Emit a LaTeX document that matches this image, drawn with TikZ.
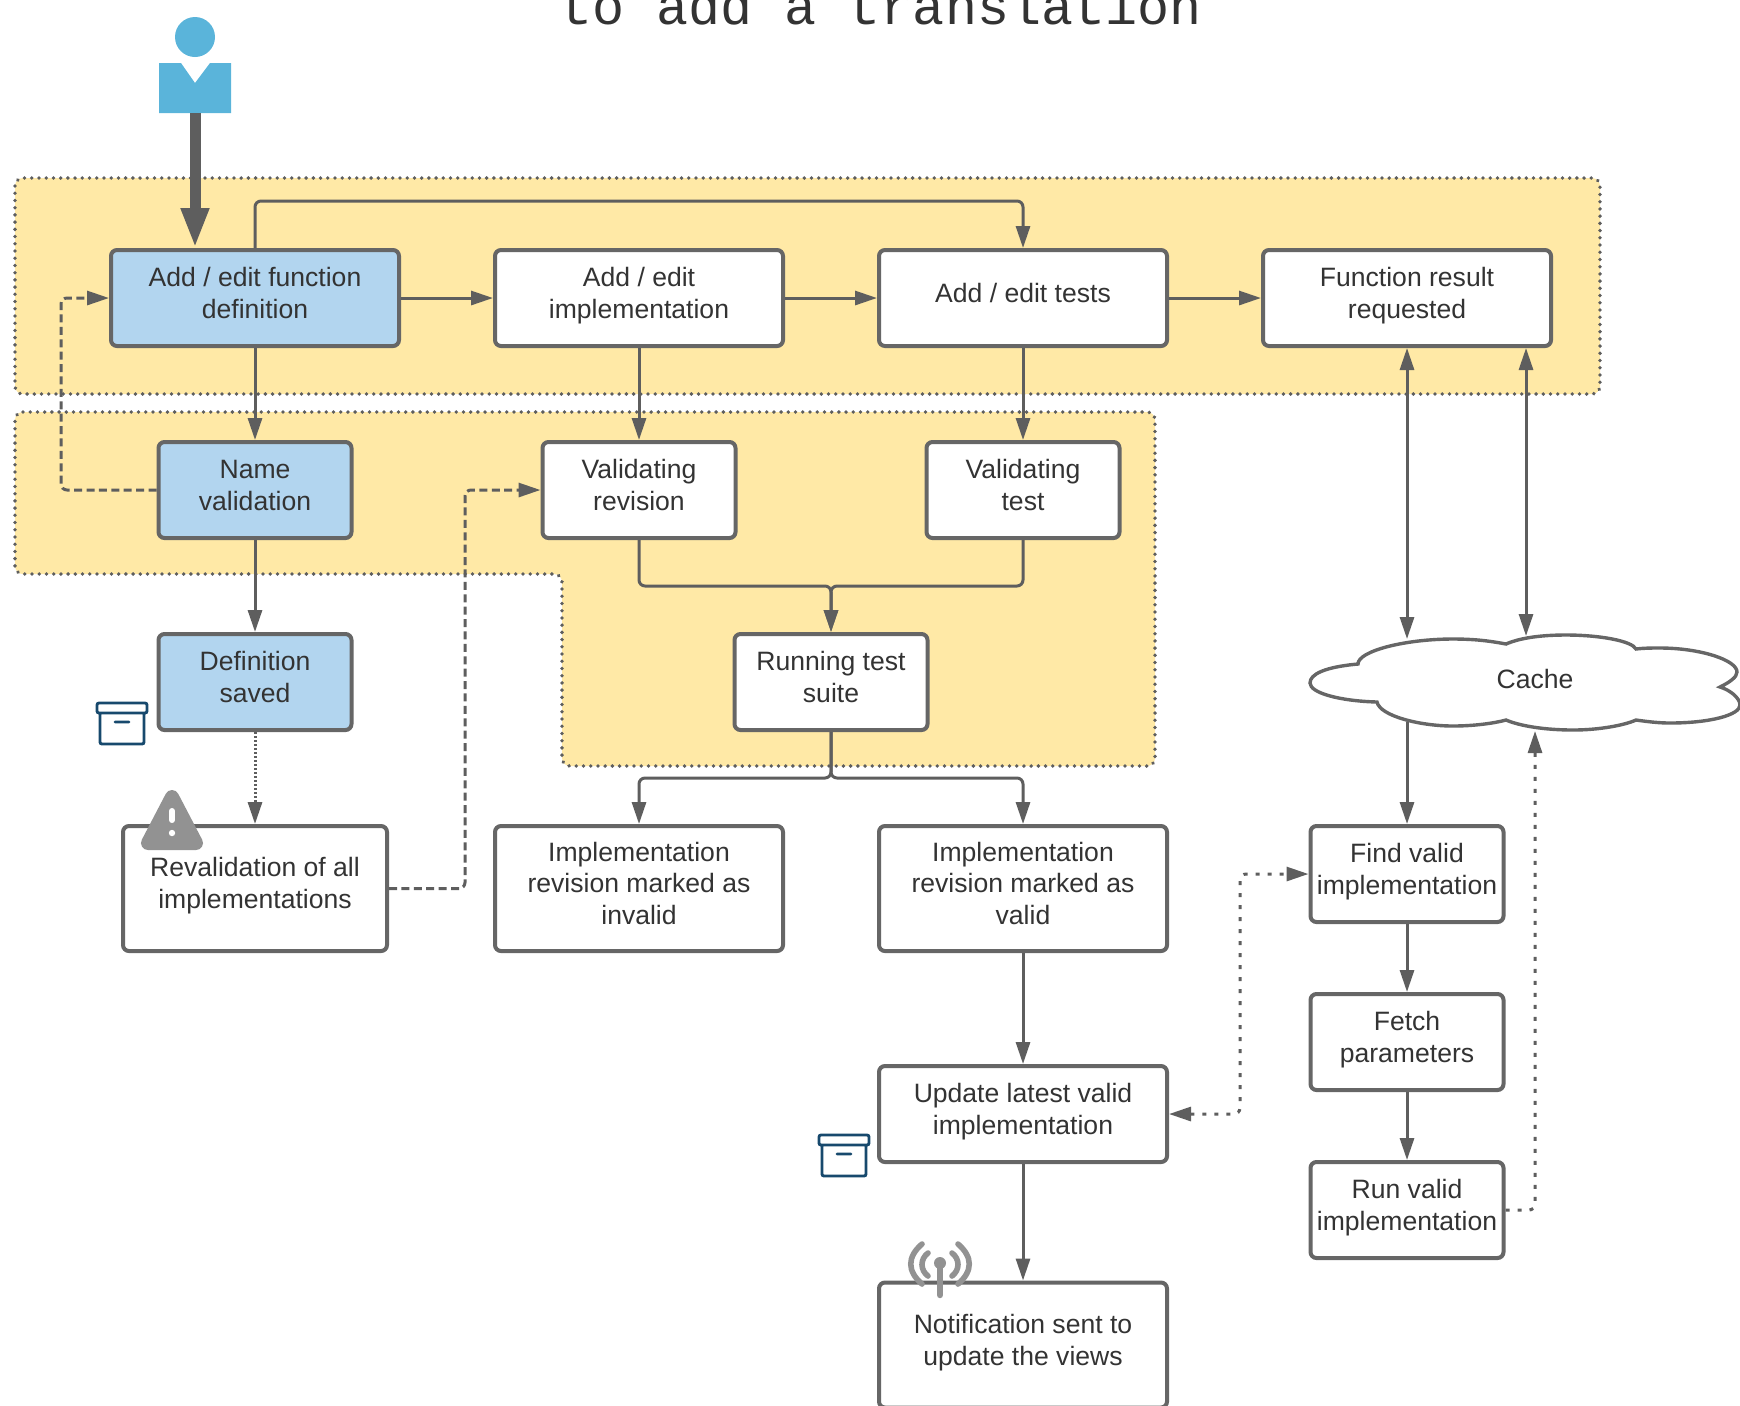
\documentclass[tikz,border=0pt]{standalone}
\usepackage{fontspec}
\setmainfont{Liberation Sans}
\setmonofont{Liberation Mono}
\usetikzlibrary{arrows.meta}
\definecolor{linegray}{HTML}{5E5E5E}
\definecolor{boxline}{HTML}{666666}
\definecolor{txt}{HTML}{333333}
\definecolor{zone}{HTML}{FFE9A6}
\definecolor{bluefill}{HTML}{B2D5EF}
\definecolor{actorblue}{HTML}{5AB4DA}
\definecolor{iconblue}{HTML}{17496D}
\definecolor{icongray}{HTML}{929292}
\newcommand{\lbl}[1]{\raisebox{1pt}[\height][\depth]{\begin{tabular}{@{}c@{}}#1\end{tabular}}}
\tikzset{
  x=0.5pt,y=-0.5pt,
  zonebox/.style={fill=zone,draw=linegray,line width=1.9pt,line cap=round,dash pattern=on 0.01pt off 3.6pt,rounded corners=4pt},
  card/.style={draw=boxline,line width=2pt,rounded corners=3pt,fill=white,inner sep=0pt,text=txt,font=\fontsize{13.28}{15.9}\selectfont},
  wide/.style={minimum width=144pt,minimum height=48pt},
  narrow/.style={minimum width=96.5pt,minimum height=48pt},
  widetall/.style={minimum width=144pt,minimum height=62.5pt},
  revalbox/.style={minimum width=132pt,minimum height=62.5pt},
  blue/.style={fill=bluefill},
  conn/.style={draw=linegray,line width=1.5pt,rounded corners=3pt,-{Triangle[length=11pt,width=7pt]}},
  dconn/.style={conn,{Triangle[length=11pt,width=7pt]}-{Triangle[length=11pt,width=7pt]}},
  dashc/.style={conn,dash pattern=on 4pt off 2.2pt},
  dotc/.style={conn,dash pattern=on 1pt off 1pt},
  sparse/.style={dash pattern=on 2pt off 4pt},
  archive/.pic={
    \draw[iconblue,line width=1.45pt,rounded corners=1pt,line cap=round]
      (0,0) rectangle (50,10) (3,10) -- (3,41) -- (47,41) -- (47,10) (18,19) -- (32,19);
  }
}
\begin{document}
\begin{tikzpicture}
\useasboundingbox (0,0) rectangle (1740,1405);
% zones
\draw[zonebox] (15,178) rectangle (1600,394);
\draw[zonebox] (15,412) -- (1155,412) -- (1155,766) -- (562,766) -- (562,574) -- (15,574) -- cycle;
% title
\node[anchor=base,inner sep=0pt,text=txt,font=\ttfamily\fontsize{26.7}{30}\selectfont] (title) at (881,24) {to add a translation};
% actor
\fill[actorblue] (195,37) circle[radius=10pt];
\fill[actorblue] (159,63) -- (181,63) -- (195,83) -- (210,63) -- (231,63) -- (231,113) -- (159,113) -- cycle;
\coordinate (actorbase) at (195,113);
% cloud
\draw[boxline,line width=1.7pt,fill=white,line join=miter]
 (1358,664) .. controls (1325,667) and (1310,674) .. (1310,683)
 .. controls (1310,693) and (1340,701) .. (1377,702)
 .. controls (1380,716) and (1420,726) .. (1453,726)
 .. controls (1475,726) and (1495,723) .. (1506,720)
 .. controls (1520,726) and (1545,730) .. (1573,730)
 .. controls (1600,730) and (1625,725) .. (1636,720)
 .. controls (1650,722) and (1660,723) .. (1670,723)
 .. controls (1710,723) and (1740,715) .. (1740,705)
 .. controls (1740,698) and (1730,690) .. (1720,687)
 .. controls (1730,682) and (1737,677) .. (1737,672)
 .. controls (1737,660) and (1700,648) .. (1660,648)
 .. controls (1650,648) and (1645,648) .. (1636,649)
 .. controls (1632,641) and (1600,635) .. (1566,635)
 .. controls (1540,635) and (1520,638) .. (1506,644)
 .. controls (1490,641) and (1475,639) .. (1453,639)
 .. controls (1405,639) and (1358,651) .. (1358,664) -- cycle;
\node[inner sep=0pt,text=txt,font=\fontsize{13.28}{15.9}\selectfont] (cache) at (1535,679) {Cache};
\coordinate (cacheA) at (1407,639);
\coordinate (cacheB) at (1526,636);
\coordinate (cacheC) at (1407,722);
\coordinate (cacheD) at (1535,731);
% nodes
\node[card,wide,blue] (def) at (255,298) {\lbl{Add / edit function\\definition}};
\node[card,wide] (impl) at (639,298) {\lbl{Add / edit\\implementation}};
\node[card,wide] (tests) at (1023,298) {\lbl{Add / edit tests}};
\node[card,wide] (result) at (1407,298) {\lbl{Function result\\requested}};
\node[card,narrow,blue] (name) at (255,490) {\lbl{Name\\validation}};
\node[card,narrow] (rev) at (639,490) {\lbl{Validating\\revision}};
\node[card,narrow] (test) at (1023,490) {\lbl{Validating\\test}};
\node[card,narrow,blue] (saved) at (255,682) {\lbl{Definition\\saved}};
\node[card,narrow] (running) at (831,682) {\lbl{Running test\\suite}};
\node[card,revalbox] (reval) at (255,888.5) {\lbl{Revalidation of all\\implementations}};
\node[card,widetall] (invalid) at (639,888.5) {\lbl{Implementation\\revision marked as\\invalid}};
\node[card,widetall] (valid) at (1023,888.5) {\lbl{Implementation\\revision marked as\\valid}};
\node[card,wide] (update) at (1023,1114) {\lbl{Update latest valid\\implementation}};
\node[card,widetall] (notif) at (1023,1345) {\lbl{Notification sent to\\update the views}};
\node[card,narrow] (find) at (1407,874) {\lbl{Find valid\\implementation}};
\node[card,narrow] (fetch) at (1407,1042) {\lbl{Fetch\\parameters}};
\node[card,narrow] (run) at (1407,1210) {\lbl{Run valid\\implementation}};
% helper coordinates
\coordinate (topbus) at (640,201);
\coordinate (leftbus) at (61,298);
\coordinate (revbus) at (465,490);
\coordinate (mergebus) at (831,586);
\coordinate (splitbus) at (831,778);
\coordinate (updbus) at (1240,874);
\coordinate (runbus) at (1535,1210);
% connectors
\draw[linegray,line width=5.5pt,-{Triangle[length=20pt,width=13pt]}] (actorbase) -- (def.north -| actorbase);
\draw[conn] (def.north) -- (def.north |- topbus) -- (tests.north |- topbus) -- (tests.north);
\draw[conn] (def) -- (impl);
\draw[conn] (impl) -- (tests);
\draw[conn] (tests) -- (result);
\draw[conn] (def) -- (name);
\draw[conn] (impl) -- (rev);
\draw[conn] (tests) -- (test);
\draw[dashc] (name.west) -- (name.west -| leftbus) -- (def.west -| leftbus) -- (def.west);
\draw[conn] (name) -- (saved);
\draw[dotc] (saved) -- (reval);
\draw[dashc] (reval.east) -- (reval.east -| revbus) -- (rev.west -| revbus) -- (rev.west);
\draw[conn] (rev.south) -- (rev.south |- mergebus) -- (running.north |- mergebus) -- (running.north);
\draw[conn] (test.south) -- (test.south |- mergebus) -- (running.north |- mergebus) -- (running.north);
\draw[conn] (running.south) -- (running.south |- splitbus) -- (invalid.north |- splitbus) -- (invalid.north);
\draw[conn] (running.south) -- (running.south |- splitbus) -- (valid.north |- splitbus) -- (valid.north);
\draw[conn] (valid) -- (update);
\draw[conn] (update) -- (notif);
\draw[dconn] (result.south) -- (cacheA);
\draw[dconn] (cacheB |- result.south) -- (cacheB);
\draw[conn] (cacheC) -- (find.north);
\draw[conn] (find) -- (fetch);
\draw[conn] (fetch) -- (run);
\draw[conn,sparse] (run.east) -- (runbus) -- (cacheD);
\draw[dconn,sparse] (update.east) -- (update.east -| updbus) -- (updbus) -- (find.west);
% icons
\pic at (97,703) {archive};
\pic at (819,1135) {archive};
\draw[icongray,fill=icongray,line width=7pt,line join=round] (172,797) -- (148,843) -- (196,843) -- cycle;
\draw[white,line width=3pt,line cap=round] (172,811) -- (172,820);
\fill[white] (172,833) circle[radius=1.6pt];
\draw[icongray,line width=2.8pt,line cap=round]
  (922,1244) .. controls (907,1257) and (907,1271) .. (922,1284)
  (958,1244) .. controls (973,1257) and (973,1271) .. (958,1284)
  (928,1253) .. controls (920,1259) and (920,1270) .. (928,1276)
  (952,1253) .. controls (960,1259) and (960,1270) .. (952,1276);
\draw[icongray,line width=3.2pt,line cap=round] (940,1264) -- (940,1295);
\fill[icongray] (940,1263) circle[radius=3pt];
\end{tikzpicture}
\end{document}
